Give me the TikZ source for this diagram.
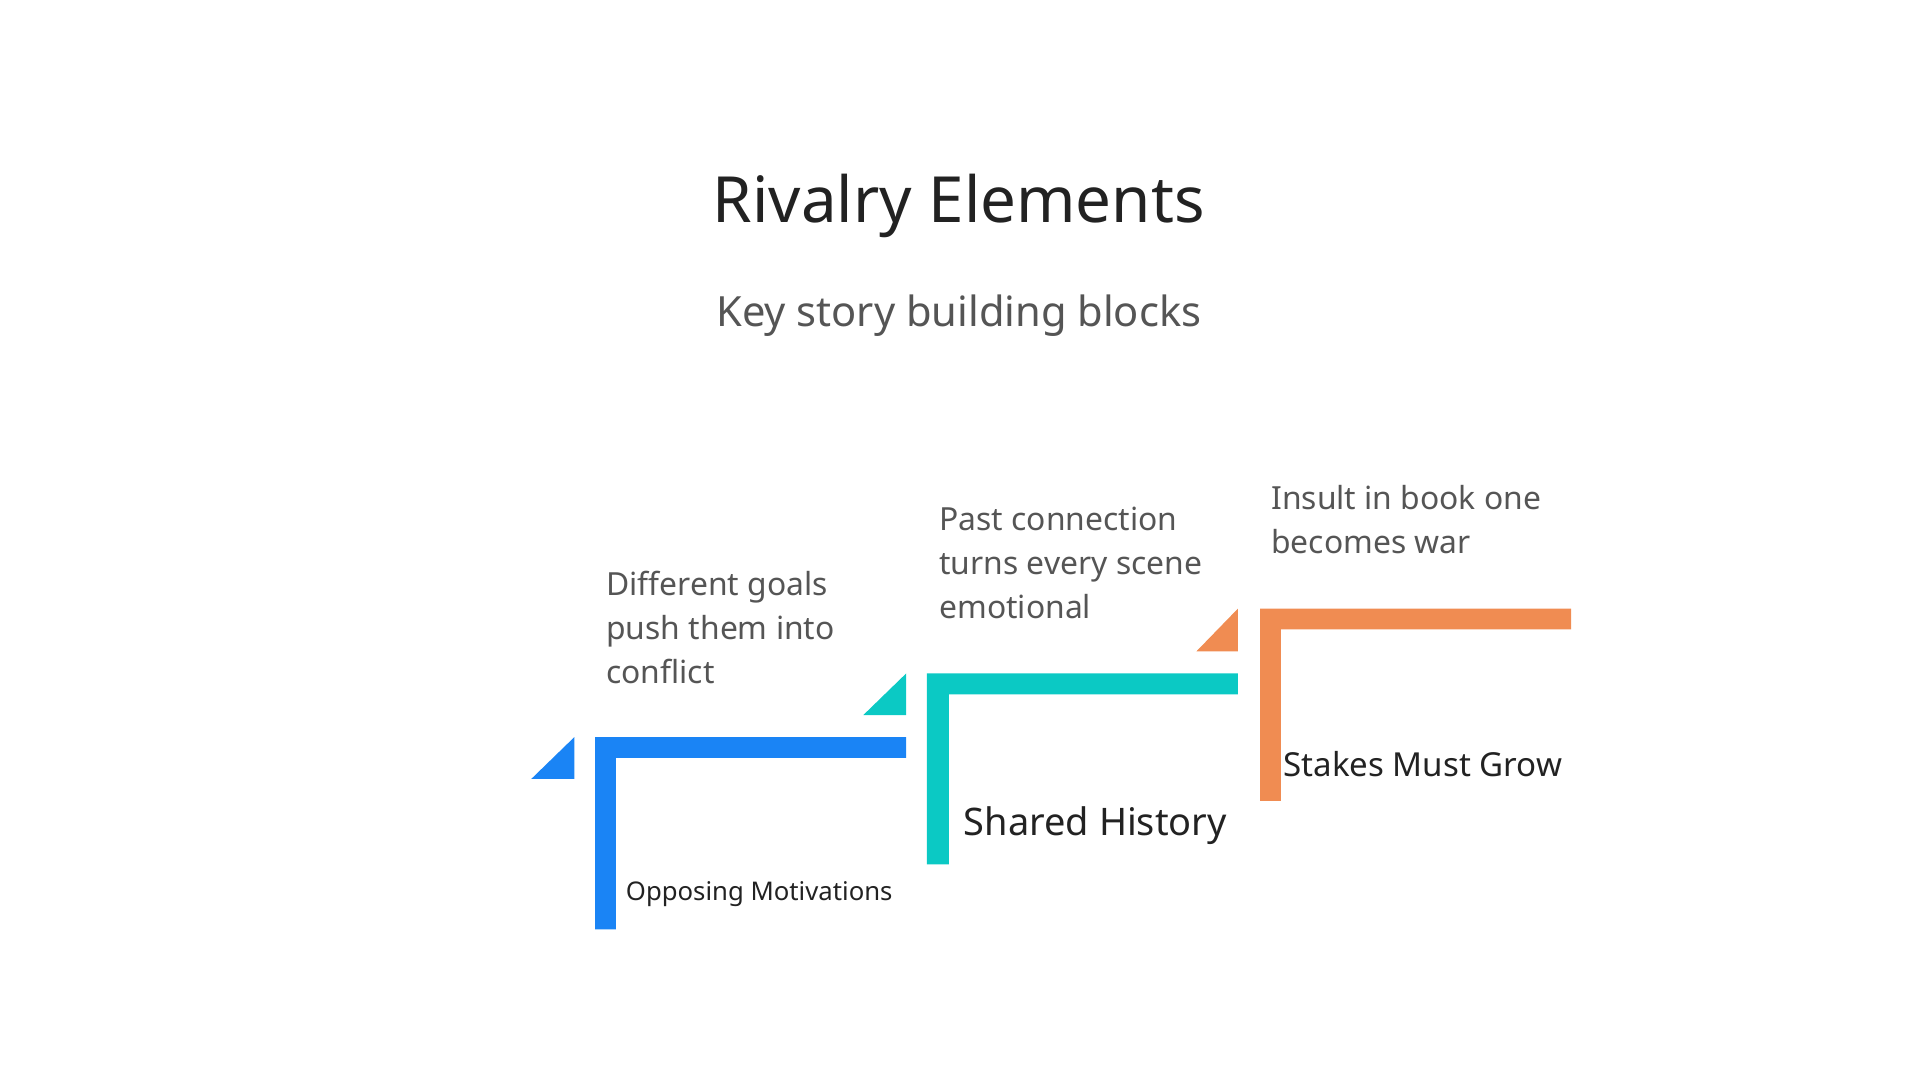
\documentclass[tikz,border=0pt]{standalone}
\usepackage{fontspec}
\setmainfont{Noto Sans}
\usetikzlibrary{positioning}
\definecolor{Blue}{HTML}{1A84F5}
\definecolor{Teal}{HTML}{0BC9C4}
\definecolor{Orange}{HTML}{F08C52}
\definecolor{Ink}{HTML}{222222}
\definecolor{Grey}{HTML}{555555}
\begin{document}
\begin{tikzpicture}
    [
    x=1pt, y=-1pt,
    desc/.style ={
        anchor=north west,
        align=left,
        inner sep=0pt,
        text=Grey,
        font=\fontsize{26}{36}\selectfont
    },
    lbl/.style ={
        anchor=west,
        inner sep=0pt,
        text=Ink,
        font=\bfseries
    }
    ]
    \useasboundingbox (0,0) rectangle (1568,882);
    \node (title) at (783,168) {\fontsize{52}{60}\selectfont\color{Ink}Rivalry Elements};
    \node (subtitle) at (783,258) {\fontsize{34}{40}\selectfont\color{Grey}Key story building blocks};

    % blue step
    \fill[Blue] (434,636) -- (469,602) -- (469,636) -- cycle;
    \fill[Blue] (486,759) -- (486,602) -- (740,602) -- (740,619) -- (503,619) -- (503,759) -- cycle;
    \node (motiv)[lbl, font=\bfseries\fontsize{21}{24}\selectfont] at (511,730) {Opposing Motivations};
    \node (motivtxt)[desc] at (495,466) {Different goals\\push them into\\conflict};

    % teal step
    \fill[Teal] (705,584) -- (740,550) -- (740,584) -- cycle;
    \fill[Teal] (757,706) -- (757,550) -- (1011,550) -- (1011,567) -- (775,567) -- (775,706) -- cycle;
    \node (history)[lbl, font=\bfseries\fontsize{31}{34}\selectfont] at (787,674) {Shared History};
    \node (historytxt)[desc] at (767,414) {Past connection\\turns every scene\\emotional};

    % orange step
    \fill[Orange] (977,532) -- (1011,497) -- (1011,532) -- cycle;
    \fill[Orange] (1029,654) -- (1029,497) -- (1283,497) -- (1283,514) -- (1046,514) -- (1046,654) -- cycle;
    \node (stakes)[lbl, font=\bfseries\fontsize{27}{30}\selectfont] at (1048,624) {Stakes Must Grow};
    \node (stakestxt)[desc] at (1038,396) {Insult in book one\\becomes war};
\end{tikzpicture}
\end{document}
